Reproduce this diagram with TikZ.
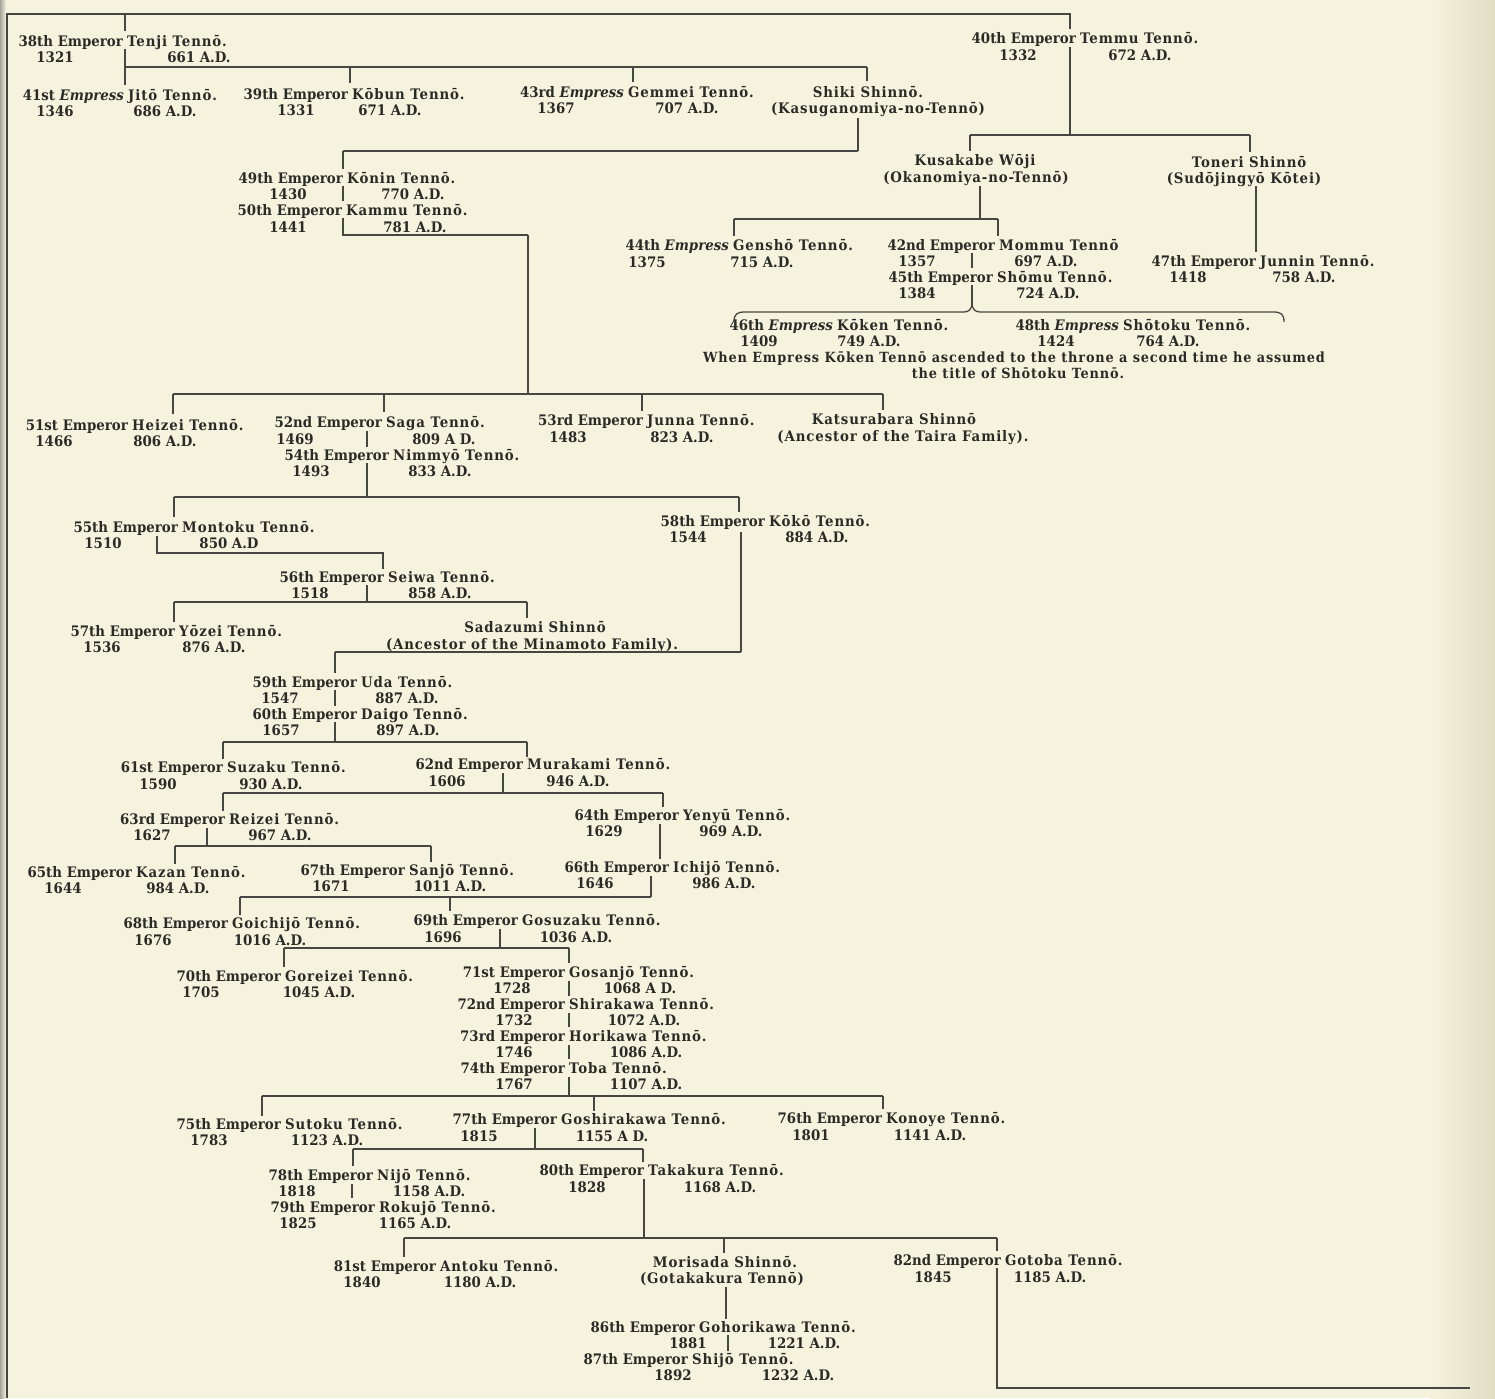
\documentclass[tikz,border=0pt]{standalone}
\usepackage{fontspec}
\setmainfont{DejaVu Serif}[FakeStretch=0.92]
\newfontfamily\spaced{DejaVu Serif}[FakeStretch=0.92, LetterSpace=6]
\definecolor{paper}{RGB}{245,243,222}
\definecolor{paperdark}{RGB}{226,222,196}
\definecolor{gutter}{RGB}{165,165,155}
\definecolor{ink}{RGB}{42,42,38}
\definecolor{lnk}{RGB}{70,70,66}
\newcommand\fs{\fontsize{14.5}{16}\selectfont\bfseries}
\newcommand\fsr{\spaced\fontsize{14.5}{16}\selectfont\bfseries}
\newcommand\fsn{\spaced\fontsize{14}{16}\selectfont\bfseries}
\tikzset{
  tt/.style={inner sep=0pt, text=ink, font=\fs, yshift=-3pt},
  ttr/.style={inner sep=0pt, text=ink, font=\fsr, yshift=-3pt},
  yt/.style={inner sep=0pt, text=ink, font=\fs, anchor=mid, yshift=-3pt},
  ct/.style={inner sep=0pt, text=ink, font=\fsr, anchor=mid, yshift=-3pt},
  nt/.style={inner sep=0pt, text=ink, font=\fsn, anchor=mid, yshift=-3pt},
  ln/.style={draw=lnk, line width=1.3pt},
}
% entry title line split at x
\newcommand\ent[5]{%
  \node[tt,anchor=mid east] (#1L) at ({#2-2},#3) {#4};
  \node[ttr,anchor=mid west] (#1R) at ({#2+2},#3) {#5};}
% years line
\newcommand\yrs[6]{%
  \node[yt] (#1A) at (#3,#2) {#4};
  \node[yt] (#1B) at (#5,#2) {#6};}
% two centred lines
\newcommand\twol[7]{%
  \node[ct] (#1L) at (#2,#3) {#4};
  \node[ct] (#1R) at (#5,#6) {#7};}
\newcommand\cp[3]{\coordinate (#1) at (#2,#3);}
% family bar: parent, bar y, left end, right end, children
\newcommand\famc[5]{%
  \coordinate (bY) at (0,#2);
  \draw[ln] (#1) -- (#1 |- bY);
  \draw[ln] (#3 |- bY) -- (#4 |- bY);
  \foreach \c in {#5} {\draw[ln] (\c |- bY) -- (\c);}}
\begin{document}
\begin{tikzpicture}[x=1pt,y=-1pt]
\useasboundingbox (0,0) rectangle (1495,1398);
\fill[paper] (0,0) rectangle (1495,1398);
\shade[left color=paper, right color=paperdark] (1430,0) rectangle (1495,1398);
\shade[left color=gutter, right color=paper] (0,0) rectangle (6,1398);

% ---------- texts ----------
\ent{p38}{125}{41}{38th Emperor}{Tenji Tennō.}
\yrs{p38}{57}{55}{1321}{199}{661 A.D.}
\ent{p40}{1078}{38}{40th Emperor}{Temmu Tennō.}
\yrs{p40}{55}{1018}{1332}{1140}{672 A.D.}
\ent{p41}{126}{95}{41st \textit{Empress}}{Jitō Tennō.}
\yrs{p41}{111}{55}{1346}{165}{686 A.D.}
\ent{p39}{350}{94}{39th Emperor}{Kōbun Tennō.}
\yrs{p39}{110}{296}{1331}{390}{671 A.D.}
\ent{p43}{626}{92}{43rd \textit{Empress}}{Gemmei Tennō.}
\yrs{p43}{108}{556}{1367}{687}{707 A.D.}
\twol{shiki}{868}{92}{Shiki Shinnō.}{878}{108}{(Kasuganomiya-no-Tennō)}
\twol{kusa}{975}{160}{Kusakabe Wōji}{976}{177}{(Okanomiya-no-Tennō)}
\twol{toneri}{1249}{162}{Toneri Shinnō}{1244}{178}{(Sudōjingyō Kōtei)}
\ent{p49}{345}{178}{49th Emperor}{Kōnin Tennō.}
\yrs{p49}{194}{288}{1430}{413}{770 A.D.}
\ent{p50}{344}{210}{50th Emperor}{Kammu Tennō.}
\yrs{p50}{227}{288}{1441}{415}{781 A.D.}
\ent{p44}{731}{245}{44th \textit{Empress}}{Genshō Tennō.}
\yrs{p44}{262}{647}{1375}{762}{715 A.D.}
\ent{p42}{997}{245}{42nd Emperor}{Mommu Tennō}
\yrs{p42}{261}{917}{1357}{1046}{697 A.D.}
\ent{p45}{995}{277}{45th Emperor}{Shōmu Tennō.}
\yrs{p45}{293}{917}{1384}{1048}{724 A.D.}
\ent{p47}{1258}{261}{47th Emperor}{Junnin Tennō.}
\yrs{p47}{277}{1188}{1418}{1304}{758 A.D.}
\ent{p46}{835}{325}{46th \textit{Empress}}{Kōken Tennō.}
\yrs{p46}{341}{759}{1409}{869}{749 A.D.}
\ent{p48}{1121}{325}{48th \textit{Empress}}{Shōtoku Tennō.}
\yrs{p48}{341}{1056}{1424}{1168}{764 A.D.}
\node[nt] (noteA) at (1014,357) {When Empress Kōken Tennō ascended to the throne a second time he assumed};
\node[nt] (noteB) at (1018,373) {the title of Shōtoku Tennō.};

\ent{p51}{130}{425}{51st Emperor}{Heizei Tennō.}
\yrs{p51}{441}{54}{1466}{165}{806 A.D.}
\ent{p52}{384}{422}{52nd Emperor}{Saga Tennō.}
\yrs{p52}{439}{295}{1469}{444}{809 A D.}
\ent{p54}{391}{455}{54th Emperor}{Nimmyō Tennō.}
\yrs{p54}{471}{311}{1493}{440}{833 A.D.}
\ent{p53}{645}{420}{53rd Emperor}{Junna Tennō.}
\yrs{p53}{437}{568}{1483}{682}{823 A.D.}
\twol{katsura}{894}{419}{Katsurabara Shinnō}{903}{436}{(Ancestor of the Taira Family).}
\ent{p55}{180}{527}{55th Emperor}{Montoku Tennō.}
\yrs{p55}{543}{103}{1510}{229}{850 A.D}
\ent{p58}{767}{521}{58th Emperor}{Kōkō Tennō.}
\yrs{p58}{537}{688}{1544}{817}{884 A.D.}
\ent{p56}{386}{577}{56th Emperor}{Seiwa Tennō.}
\yrs{p56}{593}{310}{1518}{440}{858 A.D.}
\ent{p57}{177}{631}{57th Emperor}{Yōzei Tennō.}
\yrs{p57}{647}{102}{1536}{214}{876 A.D.}
\twol{sada}{535}{627}{Sadazumi Shinnō}{532}{644}{(Ancestor of the Minamoto Family).}
\ent{p59}{359}{682}{59th Emperor}{Uda Tennō.}
\yrs{p59}{698}{280}{1547}{407}{887 A.D.}
\ent{p60}{359}{714}{60th Emperor}{Daigo Tennō.}
\yrs{p60}{730}{281}{1657}{408}{897 A.D.}
\ent{p61}{225}{767}{61st Emperor}{Suzaku Tennō.}
\yrs{p61}{784}{158}{1590}{271}{930 A.D.}
\ent{p62}{525}{764}{62nd Emperor}{Murakami Tennō.}
\yrs{p62}{781}{447}{1606}{578}{946 A.D.}
\ent{p63}{227}{819}{63rd Emperor}{Reizei Tennō.}
\yrs{p63}{835}{152}{1627}{280}{967 A.D.}
\ent{p64}{681}{815}{64th Emperor}{Yenyū Tennō.}
\yrs{p64}{831}{604}{1629}{731}{969 A.D.}
\ent{p65}{134}{872}{65th Emperor}{Kazan Tennō.}
\yrs{p65}{888}{63}{1644}{178}{984 A.D.}
\ent{p67}{407}{870}{67th Emperor}{Sanjō Tennō.}
\yrs{p67}{886}{331}{1671}{450}{1011 A.D.}
\ent{p66}{671}{867}{66th Emperor}{Ichijō Tennō.}
\yrs{p66}{883}{595}{1646}{724}{986 A.D.}
\ent{p68}{230}{923}{68th Emperor}{Goichijō Tennō.}
\yrs{p68}{940}{153}{1676}{270}{1016 A.D.}
\ent{p69}{520}{920}{69th Emperor}{Gosuzaku Tennō.}
\yrs{p69}{937}{443}{1696}{576}{1036 A.D.}
\ent{p70}{283}{976}{70th Emperor}{Goreizei Tennō.}
\yrs{p70}{992}{201}{1705}{319}{1045 A.D.}
\ent{p71}{567}{972}{71st Emperor}{Gosanjō Tennō.}
\yrs{p71}{988}{512}{1728}{640}{1068 A D.}
\ent{p72}{567}{1004}{72nd Emperor}{Shirakawa Tennō.}
\yrs{p72}{1020}{514}{1732}{644}{1072 A.D.}
\ent{p73}{567}{1036}{73rd Emperor}{Horikawa Tennō.}
\yrs{p73}{1052}{514}{1746}{646}{1086 A.D.}
\ent{p74}{567}{1068}{74th Emperor}{Toba Tennō.}
\yrs{p74}{1084}{514}{1767}{646}{1107 A.D.}
\ent{p75}{283}{1124}{75th Emperor}{Sutoku Tennō.}
\yrs{p75}{1140}{209}{1783}{327}{1123 A.D.}
\ent{p77}{559}{1119}{77th Emperor}{Goshirakawa Tennō.}
\yrs{p77}{1136}{479}{1815}{612}{1155 A D.}
\ent{p76}{884}{1118}{76th Emperor}{Konoye Tennō.}
\yrs{p76}{1135}{811}{1801}{930}{1141 A.D.}
\ent{p78}{375}{1175}{78th Emperor}{Nijō Tennō.}
\yrs{p78}{1191}{297}{1818}{429}{1158 A.D.}
\ent{p79}{377}{1207}{79th Emperor}{Rokujō Tennō.}
\yrs{p79}{1223}{298}{1825}{415}{1165 A.D.}
\ent{p80}{646}{1170}{80th Emperor}{Takakura Tennō.}
\yrs{p80}{1187}{587}{1828}{720}{1168 A.D.}
\ent{p81}{438}{1266}{81st Emperor}{Antoku Tennō.}
\yrs{p81}{1282}{362}{1840}{480}{1180 A.D.}
\twol{mori}{725}{1262}{Morisada Shinnō.}{722}{1278}{(Gotakakura Tennō)}
\ent{p82}{1003}{1260}{82nd Emperor}{Gotoba Tennō.}
\yrs{p82}{1277}{933}{1845}{1050}{1185 A.D.}
\ent{p86}{697}{1327}{86th Emperor}{Gohorikawa Tennō.}
\yrs{p86}{1343}{688}{1881}{804}{1221 A.D.}
\ent{p87}{690}{1359}{87th Emperor}{Shijō Tennō.}
\yrs{p87}{1375}{673}{1892}{798}{1232 A.D.}

% ---------- connector points ----------
\cp{src}{7}{1398} \cp{topL}{7}{14} \cp{topR}{1070}{14}
\cp{p38up}{125}{31} \cp{p40up}{1070}{29}
\cp{p38dn}{125}{49} \cp{p41up}{125}{85} \cp{p39up}{350}{83} \cp{p43up}{633}{82} \cp{shikiup}{867}{81}
\cp{p40dn}{1070}{47} \cp{kusaup}{970}{151} \cp{tonup}{1250}{152}
\cp{shikidn}{858}{118} \cp{p49up}{343}{169}
\cp{p49dn}{343}{186} \cp{p50up}{343}{201}
\cp{p50dn}{343}{218} \cp{k50}{528}{235}
\cp{p51up}{173}{414} \cp{p52up}{384}{412} \cp{p53up}{642}{411} \cp{katsup}{883}{410}
\cp{kusadn}{980}{186} \cp{p44up}{734}{236} \cp{p42up}{998}{236}
\cp{tondn}{1256}{186} \cp{p47up}{1256}{252}
\cp{p42dn}{972}{253} \cp{p45up}{972}{268} \cp{p45dn}{972}{285} \cp{brtip}{972}{305}
\cp{brL}{734}{322} \cp{brR}{1284}{322}
\cp{p52dn}{367}{431} \cp{p54up}{367}{447} \cp{p54dn}{367}{463}
\cp{p55up}{174}{517} \cp{p58up}{739}{512}
\cp{p55dn}{157}{536} \cp{b55}{157}{553} \cp{p56up}{383}{569}
\cp{p56dn}{367}{585} \cp{p57up}{174}{622} \cp{sadaup}{527}{618}
\cp{p58dn}{741}{532} \cp{p59up}{335}{673}
\cp{p59dn}{335}{690} \cp{p60up}{335}{706}
\cp{p60dn}{335}{722} \cp{p61up}{223}{759} \cp{p62up}{527}{757}
\cp{p62dn}{503}{773} \cp{p63up}{223}{811} \cp{p64up}{663}{807}
\cp{p63dn}{207}{828} \cp{p65up}{175}{864} \cp{p67up}{431}{862}
\cp{p64dn}{660}{824} \cp{p66up}{660}{859}
\cp{p66dn}{651}{876} \cp{p68up}{240}{915} \cp{p69up}{450}{911}
\cp{p69dn}{500}{929} \cp{p70up}{284}{967} \cp{p71up}{569}{963}
\cp{p71dn}{569}{981} \cp{p72up}{569}{996}
\cp{p72dn}{569}{1013} \cp{p73up}{569}{1027}
\cp{p73dn}{569}{1045} \cp{p74up}{569}{1059}
\cp{p74dn}{569}{1077} \cp{p75up}{262}{1116} \cp{p77up}{594}{1111} \cp{p76up}{883}{1109}
\cp{p77dn}{535}{1128} \cp{p78up}{353}{1166} \cp{p80up}{643}{1162}
\cp{p78dn}{352}{1184} \cp{p79up}{352}{1198}
\cp{p80dn}{644}{1179} \cp{p81up}{404}{1257} \cp{moriup}{724}{1253} \cp{p82up}{997}{1251}
\cp{moridn}{726}{1287} \cp{p86up}{726}{1319}
\cp{p86dn}{728}{1335} \cp{p87up}{728}{1351}
\cp{p82dn}{997}{1268} \cp{bend}{1470}{1388}

% ---------- connectors ----------
\draw[ln] (src) -- (topL) -- (topR) -- (p40up);
\draw[ln] (p38up |- topL) -- (p38up);
\famc{p38dn}{67}{p41up}{shikiup}{p41up,p39up,p43up,shikiup}
\famc{p40dn}{135}{kusaup}{tonup}{kusaup,tonup}
\famc{shikidn}{151}{p49up}{shikidn}{p49up}
\draw[ln] (p49dn) -- (p50up);
\draw[ln] (p50dn) |- (k50);
\famc{k50}{394}{p51up}{katsup}{p51up,p52up,p53up,katsup}
\famc{kusadn}{219}{p44up}{p42up}{p44up,p42up}
\draw[ln] (tondn) -- (p47up);
\draw[ln] (p42dn) -- (p45up);
\draw[ln] (p45dn) -- (brtip);
\draw[ln] (brL) .. controls (734,314) and (737,312) .. (745,312) -- (964,312)
  .. controls (969,312) and (971,309) .. (brtip)
  .. controls (973,309) and (975,312) .. (980,312) -- (1273,312)
  .. controls (1281,312) and (1284,314) .. (brR);
\draw[ln] (p52dn) -- (p54up);
\famc{p54dn}{497}{p55up}{p58up}{p55up,p58up}
\draw[ln] (p55dn) -- (b55) -| (p56up);
\famc{p56dn}{602}{p57up}{sadaup}{p57up,sadaup}
\famc{p58dn}{652}{p59up}{p58dn}{p59up}
\draw[ln] (p59dn) -- (p60up);
\famc{p60dn}{742}{p61up}{p62up}{p61up,p62up}
\famc{p62dn}{793}{p63up}{p64up}{p63up,p64up}
\famc{p63dn}{846}{p65up}{p67up}{p65up,p67up}
\draw[ln] (p64dn) -- (p66up);
\famc{p66dn}{897}{p68up}{p66dn}{p68up,p69up}
\famc{p69dn}{948}{p70up}{p71up}{p70up,p71up}
\draw[ln] (p71dn) -- (p72up);
\draw[ln] (p72dn) -- (p73up);
\draw[ln] (p73dn) -- (p74up);
\famc{p74dn}{1096}{p75up}{p76up}{p75up,p77up,p76up}
\famc{p77dn}{1149}{p78up}{p80up}{p78up,p80up}
\draw[ln] (p78dn) -- (p79up);
\famc{p80dn}{1238}{p81up}{p82up}{p81up,moriup,p82up}
\draw[ln] (moridn) -- (p86up);
\draw[ln] (p86dn) -- (p87up);
\draw[ln] (p82dn) |- (bend);
\end{tikzpicture}
\end{document}
